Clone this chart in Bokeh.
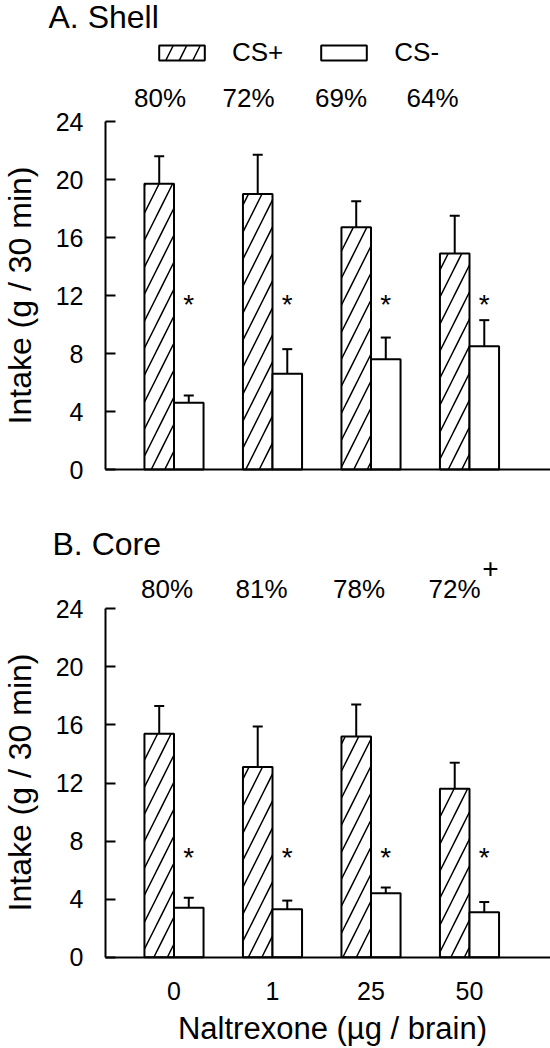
import numpy as np
from bokeh.plotting import figure
from bokeh.layouts import column
from bokeh.models import (Range1d, FixedTicker, Label, Legend, LegendItem, Whisker,
                          ColumnDataSource, TeeHead)
from bokeh.core.properties import value
from bokeh.embed import file_html
from bokeh.resources import INLINE

# ---------------- data ----------------
doses = ["0", "1", "25", "50"]

shell_cs_plus = [19.7, 19.0, 16.7, 14.9]
shell_cs_plus_sem = [1.9, 2.7, 1.8, 2.6]
shell_cs_minus = [4.6, 6.6, 7.6, 8.5]
shell_cs_minus_sem = [0.5, 1.7, 1.5, 1.8]
shell_pref = ["80%", "72%", "69%", "64%"]

core_cs_plus = [15.4, 13.1, 15.2, 11.6]
core_cs_plus_sem = [1.9, 2.8, 2.2, 1.8]
core_cs_minus = [3.4, 3.3, 4.4, 3.1]
core_cs_minus_sem = [0.7, 0.6, 0.4, 0.7]
core_pref = ["80%", "81%", "78%", "72%"]

y_ticks = [0, 4, 8, 12, 16, 20, 24]

# ---------------- layout / style ----------------
FONT = "Liberation Sans"
W = 550
BAR_W = 0.3
PX_PER_GROUP = 98.5
FIRST_GROUP_PX = 173.5
AXIS_PX = 105
X_START = -FIRST_GROUP_PX / PX_PER_GROUP
X_END = (W - FIRST_GROUP_PX) / PX_PER_GROUP
X_AXIS_LEFT = (AXIS_PX - FIRST_GROUP_PX) / PX_PER_GROUP
Y_MAX = 24
HATCH = dict(hatch_pattern="/", hatch_color="black", hatch_scale=27, hatch_weight=1.5)
pct_dx_A = [-14, -24, -30, -37]
pct_dx_B = [-7, -11, -12, -15]


def make_panel(height, zero_px, top_px, cs_plus, cs_plus_sem, cs_minus, cs_minus_sem,
               pref, pct_dx, pct_y, sig_y, title, title_pos, ylab_y, show_x):
    ppu = (zero_px - top_px) / Y_MAX
    y_start = -(height - zero_px) / ppu
    y_end = zero_px / ppu
    p = figure(width=W, height=height, x_range=Range1d(X_START, X_END),
               y_range=Range1d(y_start, y_end), output_backend="svg",
               toolbar_location=None, min_border=0, min_border_left=0,
               min_border_right=0, min_border_top=0, min_border_bottom=0)
    p.outline_line_color = None
    p.xgrid.grid_line_color = None
    p.ygrid.grid_line_color = None
    p.background_fill_color = "white"
    p.border_fill_color = "white"

    pos = np.arange(len(doses))
    src_p = ColumnDataSource(dict(x=pos - BAR_W / 2, top=cs_plus,
                                  upper=np.array(cs_plus) + np.array(cs_plus_sem)))
    src_m = ColumnDataSource(dict(x=pos + BAR_W / 2, top=cs_minus,
                                  upper=np.array(cs_minus) + np.array(cs_minus_sem)))

    r_plus = p.vbar(x="x", top="top", bottom=0, width=BAR_W, source=src_p,
                    fill_color="white", line_color="black", line_width=2, **HATCH)
    r_minus = p.vbar(x="x", top="top", bottom=0, width=BAR_W, source=src_m,
                     fill_color="white", line_color="black", line_width=2)

    for src in (src_p, src_m):
        w = Whisker(source=src, base="x", lower="top", upper="upper", dimension="height",
                    line_color="black", line_width=2, lower_head=None,
                    upper_head=TeeHead(size=10, line_width=2, line_color="black"))
        p.add_layout(w)

    # significance asterisks above CS- bars
    p.text(x=pos + BAR_W / 2, y=[sig_y] * len(doses), text=["*"] * len(doses),
           text_font=value(FONT), text_font_size="28px", text_align="center",
           text_baseline="middle", text_color="black")

    # axes (drawn at fixed positions inside the frame)
    yax = p.yaxis[0]
    yax.fixed_location = X_AXIS_LEFT
    yax.bounds = (0, Y_MAX)
    yax.ticker = FixedTicker(ticks=y_ticks)
    yax.axis_line_width = 2
    yax.major_tick_line_width = 2
    yax.major_tick_in = 10
    yax.major_tick_out = 0
    yax.minor_tick_line_color = None
    yax.major_label_text_font = FONT
    yax.major_label_text_font_size = "25px"
    yax.major_label_text_color = "black"
    yax.major_label_standoff = 22

    xax = p.xaxis[0]
    xax.fixed_location = 0
    xax.bounds = (X_AXIS_LEFT, X_END)
    xax.axis_line_width = 2
    xax.major_tick_in = 0
    xax.major_tick_out = 0
    xax.minor_tick_line_color = None
    if show_x:
        xax.ticker = FixedTicker(ticks=list(pos))
        xax.major_label_overrides = {int(i): d for i, d in zip(pos, doses)}
        xax.major_label_text_font = FONT
        xax.major_label_text_font_size = "25px"
        xax.major_label_text_color = "black"
        xax.major_label_standoff = 25
    else:
        xax.ticker = FixedTicker(ticks=[])

    # preference percentages
    for i, (t, dx) in enumerate(zip(pref, pct_dx)):
        p.add_layout(Label(x=float(pos[i]), y=pct_y, x_units="data", y_units="screen",
                           x_offset=dx, text=t, text_font=FONT, text_font_size="26px",
                           text_align="center", text_baseline="middle", text_color="black"))

    # panel title
    p.add_layout(Label(x=title_pos[0], y=title_pos[1], x_units="screen", y_units="screen",
                       text=title, text_font=FONT, text_font_size="32px",
                       text_align="left", text_baseline="middle", text_color="black"))

    # y axis title
    p.add_layout(Label(x=19, y=ylab_y, x_units="screen", y_units="screen",
                       text="Intake (g / 30 min)", angle=np.pi / 2, angle_units="rad",
                       text_font=FONT, text_font_size="32px", text_align="center",
                       text_baseline="middle", text_color="black"))
    return p, r_plus, r_minus


HA, HB = 520, 528

pA, rAp, rAm = make_panel(HA, 469, 121, shell_cs_plus, shell_cs_plus_sem, shell_cs_minus,
                          shell_cs_minus_sem, shell_pref, pct_dx_A, HA - 97, 11.4,
                          "A. Shell", (48, HA - 16), HA - 295, False)

legend = Legend(items=[LegendItem(label="CS+", renderers=[rAp]),
                       LegendItem(label="CS-", renderers=[rAm])],
                location=(153, HA - 68), orientation="horizontal",
                glyph_width=57, glyph_height=19, label_standoff=22, spacing=32,
                padding=0, margin=0, border_line_color=None, background_fill_alpha=0,
                label_text_font=FONT, label_text_font_size="26px", label_text_color="black")
pA.add_layout(legend)

pB, rBp, rBm = make_panel(HB, 436.7, 88.3, core_cs_plus, core_cs_plus_sem, core_cs_minus,
                          core_cs_minus_sem, core_pref, pct_dx_B, HB - 68, 6.9,
                          "B. Core", (52, HB - 23), HB - 262, True)

pB.add_layout(Label(x=490, y=HB - 48, x_units="screen", y_units="screen", text="+",
                    text_font=FONT, text_font_size="28px", text_align="center",
                    text_baseline="middle", text_color="black"))
pB.add_layout(Label(x=332, y=HB - 508, x_units="screen", y_units="screen",
                    text="Naltrexone (µg / brain)", text_font=FONT, text_font_size="31px",
                    text_align="center", text_baseline="middle", text_color="black"))

layout = column(pA, pB, spacing=0)
open("out.html", "w").write(file_html(layout, INLINE))
